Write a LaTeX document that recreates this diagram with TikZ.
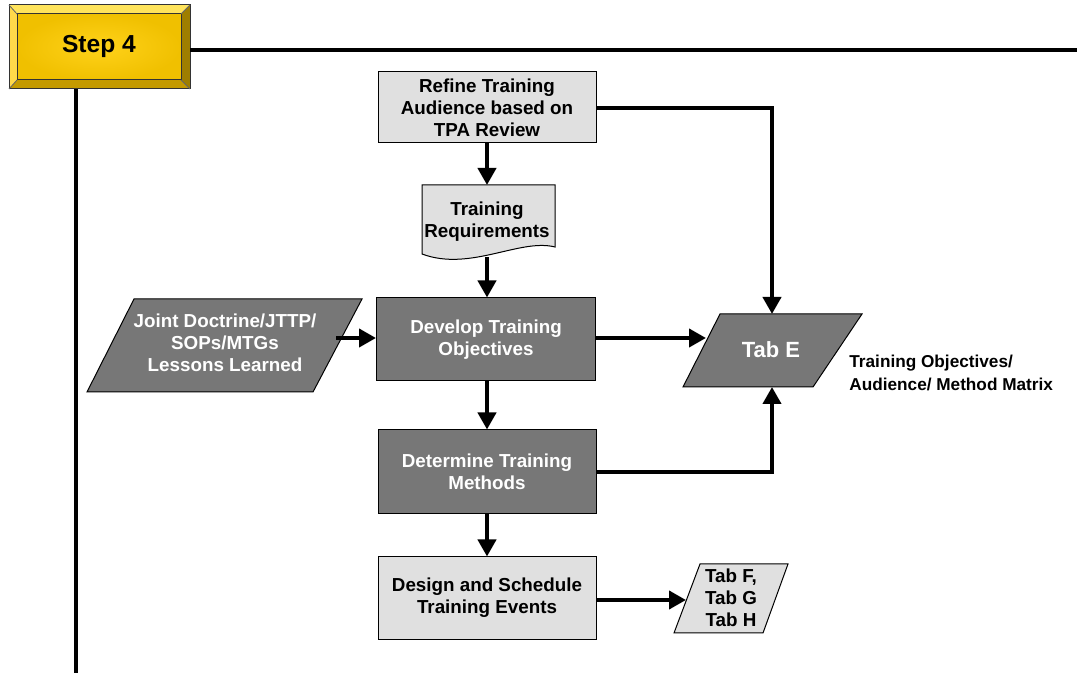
\documentclass[tikz,border=0pt]{standalone}
\usepackage{fontspec}
\setmainfont{Liberation Sans}
\usetikzlibrary{arrows.meta}
\definecolor{lightbox}{HTML}{E0E0E0}
\definecolor{darkbox}{HTML}{777777}
\definecolor{goldmid}{HTML}{F0C000}
\definecolor{goldlight}{HTML}{FFD21A}
\definecolor{goldtop}{HTML}{FFE45C}
\definecolor{goldleft}{HTML}{FFD94A}
\definecolor{goldright}{HTML}{9E7E00}
\definecolor{goldbottom}{HTML}{C49A00}
\begin{document}
\begin{tikzpicture}[x=0.5pt,y=-0.5pt,
  txt/.style={font=\fontsize{9.4}{11}\selectfont\bfseries,align=center,inner sep=0pt},
  lightstep/.style={draw=black,line width=0.5pt,fill=lightbox,txt},
  darkstep/.style={draw=black,line width=0.5pt,fill=darkbox,txt,text=white},
  flow/.style={line width=2pt,-{Triangle[width=9pt,length=8.5pt]}},
  rule/.style={line width=2pt}]
\useasboundingbox (0,0) rectangle (1077,673);

% Step 4 bevelled header block
\fill[goldtop]    (9,5) -- (190,5) -- (181,14) -- (17,14) -- cycle;
\fill[goldleft]   (9,5) -- (17,14) -- (17,80) -- (9,89) -- cycle;
\fill[goldright]  (190,5) -- (190,89) -- (181,80) -- (181,14) -- cycle;
\fill[goldbottom] (9,89) -- (190,89) -- (181,80) -- (17,80) -- cycle;
\shade[inner color=goldlight,outer color=goldmid] (17,14) rectangle (181,80);
\draw[line width=0.5pt,black!80] (9,5) rectangle (190,89);
\draw[line width=0.5pt,black!80] (17,14) rectangle (181,80);
\draw[line width=0.4pt,black!60] (9,5) -- (17,14) (190,5) -- (181,14) (9,89) -- (17,80) (190,89) -- (181,80);
\node[font=\fontsize{12.3}{14}\selectfont\bfseries] (step) at (99,46) {Step 4};

% header rules
\coordinate (hdrE) at (190,50);
\coordinate (hdrEnd) at (1077,50);
\coordinate (hdrS) at (76,89);
\coordinate (hdrBottom) at (76,673);
\draw[rule] (hdrE) -- (hdrEnd);
\draw[rule] (hdrS) -- (hdrBottom);

% process boxes
\node[lightstep,minimum width=109pt,minimum height=35.5pt] (refine) at (487,107.5)
  {Refine Training\\Audience based on\\TPA Review};
\node[darkstep,minimum width=109.5pt,minimum height=41.5pt] (develop) at (486,339.5)
  {Develop Training\\Objectives};
\node[darkstep,minimum width=109pt,minimum height=42pt] (determine) at (487,472)
  {Determine Training\\Methods};
\node[lightstep,minimum width=109pt,minimum height=41pt] (design) at (487,598)
  {Design and Schedule\\Training Events};

% document shape
\fill[lightbox,draw=black,line width=0.5pt] (422,185) -- (555,185) -- (555,247)
  .. controls (520,238) and (470,272) .. (422,254) -- cycle;
\node[txt,minimum width=66pt,minimum height=36pt] (req) at (487,221.5) {Training\\Requirements};

% input / output parallelograms
\fill[darkbox,draw=black,line width=0.5pt] (134,299) -- (362,299) -- (313,392) -- (87,392) -- cycle;
\node[txt,text=white] (joint) at (225,343) {Joint Doctrine/JTTP/\\SOPs/MTGs\\Lessons Learned};
\coordinate (jointE) at (336,338);

\fill[darkbox,draw=black,line width=0.5pt] (720,314) -- (862,314) -- (813,387) -- (683,387) -- cycle;
\node[txt,text=white,font=\fontsize{11}{13}\selectfont\bfseries] (tabE) at (771,350) {Tab E};
\coordinate (tabEW) at (706,338);
\coordinate (tabEN) at (772,314);
\coordinate (tabES) at (772,387);

\fill[lightbox,draw=black,line width=0.5pt] (700,564) -- (788,564) -- (763,633) -- (674,633) -- cycle;
\node[txt] (tabF) at (731,598) {Tab F,\\Tab G\\Tab H};
\coordinate (tabFW) at (686,600);

\node[txt,anchor=west,align=left,font=\fontsize{8.6}{11.5}\selectfont\bfseries] (matrix) at (849,373)
  {Training Objectives/\\Audience/ Method Matrix};

% connectors
\draw[flow] (refine) -- (req.north |- 0,185);
\draw[flow] (req.north |- 0,257) -- (develop.north -| req.north);
\draw[flow] (jointE) -- (develop.west |- jointE);
\draw[flow] (develop.east |- tabEW) -- (tabEW);
\draw[flow] (develop.south -| determine.north) -- (determine);
\draw[flow] (determine) -- (design);
\draw[flow] (refine.east |- 0,108) -| (tabEN);
\draw[flow] (determine.east) -| (tabES);
\draw[flow] (design.east |- tabFW) -- (tabFW);
\end{tikzpicture}
\end{document}
